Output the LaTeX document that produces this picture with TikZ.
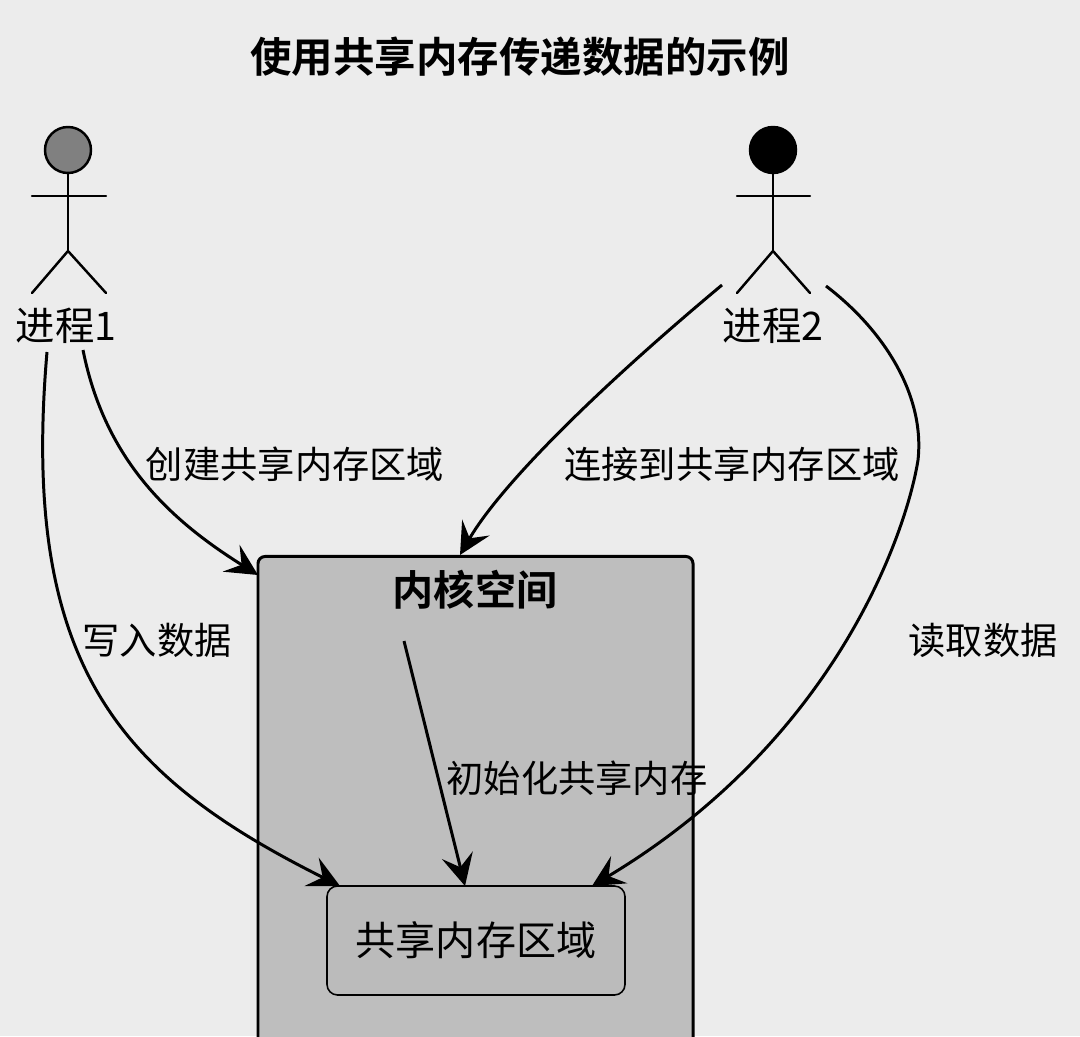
\documentclass[tikz,border=0pt]{standalone}
\usepackage{fontspec}
\setmainfont{Noto Sans CJK SC}[BoldFont={Noto Sans CJK SC Bold}]
\usepackage{xcolor}
\usetikzlibrary{arrows.meta,positioning}
\definecolor{paper}{HTML}{ECECEC}
\definecolor{kernelgray}{HTML}{BEBEBE}
\definecolor{sharedgray}{HTML}{BBBBBB}
\definecolor{headgray}{HTML}{808080}
\tikzset{
  stick/.style={line width=0.7pt,line cap=round},
  flow/.style={line width=0.85pt,->},
  lbl/.style={inner sep=0pt,font=\fontsize{10.6}{12}\selectfont},
  actorlbl/.style={inner sep=0pt,font=\fontsize{11.2}{13}\selectfont},
  titlelbl/.style={inner sep=0pt,font=\fontsize{11.8}{14}\selectfont\bfseries},
}
\begin{document}
\begin{tikzpicture}[>={Stealth[length=9pt,width=9pt,inset=3.5pt]}]
  \useasboundingbox (0,0) rectangle (10.8,10.36);
  \clip (0,0) rectangle (10.8,10.36);
  \fill[paper] (0,0) rectangle (10.8,10.36);

  \node[titlelbl] (title) at (5.20,9.79) {使用共享内存传递数据的示例};

  % boxes
  \node[draw,line width=0.85pt,fill=kernelgray,rounded corners=2pt,minimum width=4.35cm,minimum height=6cm,anchor=north west] (kernel) at (2.565,4.81) {};
  \node[titlelbl,font=\fontsize{11.7}{13}\selectfont\bfseries] (kerneltitle) at (4.75,4.46) {内核空间};
  \node[draw,line width=0.45pt,fill=sharedgray,rounded corners=3pt,minimum width=2.98cm,minimum height=1.09cm,font=\fontsize{11.4}{13}\selectfont] (shared) at (4.76,0.955) {\raisebox{-0.6pt}{共享内存区域}};

  % left actor
  \node[draw,stick,circle,fill=headgray,minimum size=0.46cm,inner sep=0pt] (head1) at (0.68,8.86) {};
  \coordinate (hip1) at (0.68,7.85);
  \draw[stick] (head1) -- (hip1);
  \draw[stick] (0.32,8.40) -- (1.06,8.40);
  \draw[stick] (0.32,7.43) -- (hip1) -- (1.06,7.43);
  \node[actorlbl] (proc1) at (0.66,7.10) {进程1};

  % right actor
  \node[draw,stick,circle,fill=black,minimum size=0.46cm,inner sep=0pt] (head2) at (7.73,8.86) {};
  \coordinate (hip2) at (7.73,7.85);
  \draw[stick] (head2) -- (hip2);
  \draw[stick] (7.37,8.40) -- (8.10,8.40);
  \draw[stick] (7.37,7.43) -- (hip2) -- (8.10,7.43);
  \node[actorlbl] (proc2) at (7.73,7.10) {进程2};

  % connector ends
  \coordinate (create) at (0.83,6.86);
  \coordinate (write) at (0.47,6.84);
  \coordinate (attach) at (7.22,7.51);
  \coordinate (read) at (8.26,7.50);
  \coordinate (readmid) at (9.18,5.76);
  \coordinate (initstart) at (4.04,3.95);
  \coordinate (kernelleft) at (2.58,4.61);
  \coordinate (kerneltop) at (4.60,4.81);
  \coordinate (sharedl) at (3.40,1.50);
  \coordinate (sharedm) at (4.65,1.50);
  \coordinate (sharedr) at (5.92,1.50);

  \draw[flow] (create) .. controls (1.05,5.76) and (1.70,5.16) .. (kernelleft);
  \draw[flow] (write) .. controls (0.20,3.70) and (1.20,2.60) .. (sharedl);
  \draw[flow] (attach) .. controls (5.95,6.45) and (5.00,5.50) .. (kerneltop);
  \draw[flow] (read) .. controls (8.85,7.05) and (9.25,6.40) .. (readmid)
    .. controls (9.08,5.12) and (8.42,3.00) .. (sharedr);
  \draw[flow] (initstart) -- (sharedm);

  % labels
  \node[lbl] (createlbl) at (2.95,5.72) {创建共享内存区域};
  \node[lbl] (attachlbl) at (7.32,5.72) {连接到共享内存区域};
  \node[lbl] (writelbl) at (1.57,3.96) {写入数据};
  \node[lbl] (readlbl) at (9.83,3.96) {读取数据};
  \node[lbl] (initlbl) at (5.77,2.58) {初始化共享内存};
\end{tikzpicture}
\end{document}
